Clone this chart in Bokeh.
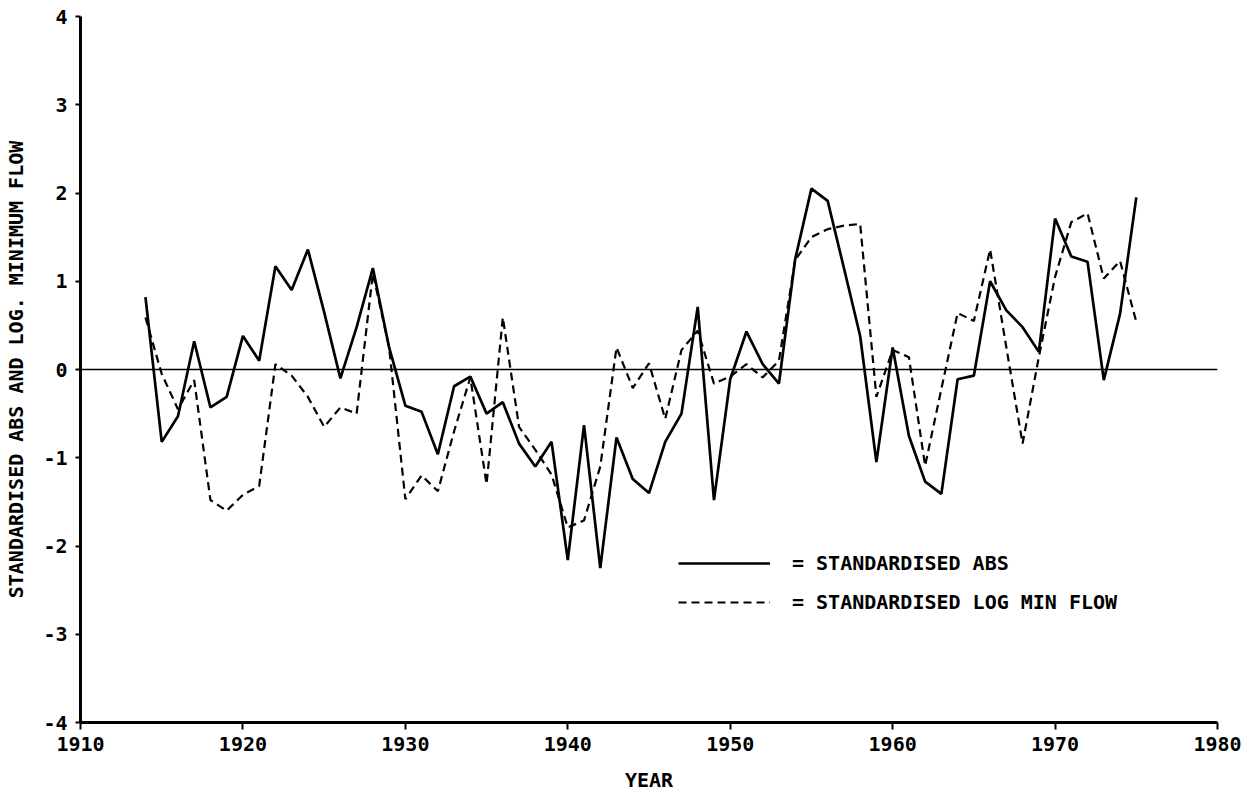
from bokeh.plotting import figure
from bokeh.models import Range1d, FixedTicker, Span, Legend, LegendItem
from bokeh.embed import file_html
from bokeh.resources import INLINE

years = list(range(1914, 1976))

std_abs = [0.82, -0.82, -0.53, 0.32, -0.43, -0.31, 0.38, 0.10, 1.17, 0.90,
           1.36, 0.65, -0.10, 0.48, 1.15, 0.25, -0.41, -0.48, -0.96, -0.19,
           -0.08, -0.50, -0.37, -0.84, -1.10, -0.82, -2.16, -0.63, -2.25, -0.77,
           -1.24, -1.40, -0.82, -0.50, 0.71, -1.48, -0.11, 0.43, 0.06, -0.16,
           1.25, 2.05, 1.91, 1.15, 0.38, -1.05, 0.25, -0.75, -1.27, -1.41,
           -0.11, -0.07, 1.00, 0.67, 0.48, 0.20, 1.71, 1.28, 1.22, -0.12,
           0.63, 1.95]

std_log_min_flow = [0.59, -0.05, -0.45, -0.12, -1.48, -1.60, -1.42, -1.32, 0.06, -0.07,
                    -0.31, -0.65, -0.43, -0.50, 1.09, 0.25, -1.47, -1.20, -1.38, -0.70,
                    -0.09, -1.30, 0.59, -0.65, -0.91, -1.19, -1.79, -1.71, -1.10, 0.25,
                    -0.21, 0.07, -0.56, 0.22, 0.44, -0.16, -0.08, 0.06, -0.09, 0.10,
                    1.24, 1.50, 1.59, 1.63, 1.65, -0.31, 0.22, 0.14, -1.09, -0.22,
                    0.64, 0.55, 1.36, 0.25, -0.84, 0.14, 1.05, 1.67, 1.77, 1.03,
                    1.23, 0.54]

x_ticks = [1910, 1920, 1930, 1940, 1950, 1960, 1970, 1980]
y_ticks = [-4, -3, -2, -1, 0, 1, 2, 3, 4]
y_tick_labels = ["-4", "-3", "-2", "-1", "0", "1", "2", "3", "4"]

legend_labels = ["= STANDARDISED ABS", "= STANDARDISED LOG MIN FLOW"]
x_title = "YEAR"
y_title = "STANDARDISED ABS AND LOG. MINIMUM FLOW"

FONT = "DejaVu Sans Mono"
FS = "20px"

p = figure(width=1249, height=800, x_range=Range1d(1910, 1980), y_range=Range1d(-4, 4),
           output_backend="svg", toolbar_location=None,
           min_border_left=80, min_border_right=32, min_border_top=16, min_border_bottom=78)
p.outline_line_color = None
p.grid.visible = False
p.background_fill_color = "white"
p.border_fill_color = "white"

zero = Span(location=0, dimension="width", line_color="black", line_width=1.5)
p.add_layout(zero)

r1 = p.line(years, std_abs, line_color="black", line_width=2.7)
r2 = p.line(years, std_log_min_flow, line_color="black", line_width=2.2, line_dash="8 5")

for ax in (p.xaxis[0], p.yaxis[0]):
    ax.axis_line_width = 3
    ax.axis_line_color = "black"
    ax.major_tick_line_width = 2
    ax.major_tick_line_color = "black"
    ax.minor_tick_line_color = None
    ax.major_tick_in = 0
    ax.major_label_text_font = FONT
    ax.major_label_text_font_style = "bold"
    ax.major_label_text_font_size = FS
    ax.major_label_text_color = "black"
    ax.axis_label_text_font = FONT
    ax.axis_label_text_font_style = "bold"
    ax.axis_label_text_font_size = FS
    ax.axis_label_text_color = "black"

p.xaxis.ticker = FixedTicker(ticks=x_ticks)
p.xaxis.major_tick_out = 7
p.xaxis.major_label_standoff = 7
p.xaxis.axis_label = x_title
p.xaxis.axis_label_standoff = 14

p.yaxis.ticker = FixedTicker(ticks=y_ticks)
p.yaxis.major_label_overrides = {t: s for t, s in zip(y_ticks, y_tick_labels)}
p.yaxis.major_tick_out = 5
p.yaxis.major_label_standoff = 8
p.yaxis.axis_label = y_title
p.yaxis.axis_label_standoff = 12

legend = Legend(items=[LegendItem(label=legend_labels[0], renderers=[r1]),
                       LegendItem(label=legend_labels[1], renderers=[r2])],
                location=(598, 108), glyph_width=92, glyph_height=20, label_height=20,
                spacing=15, padding=0, margin=0, border_line_color=None,
                background_fill_alpha=0, label_standoff=22,
                label_text_font=FONT, label_text_font_size=FS,
                label_text_font_style="bold", label_text_color="black")
p.add_layout(legend)

open("out.html", "w").write(file_html(p, INLINE))
